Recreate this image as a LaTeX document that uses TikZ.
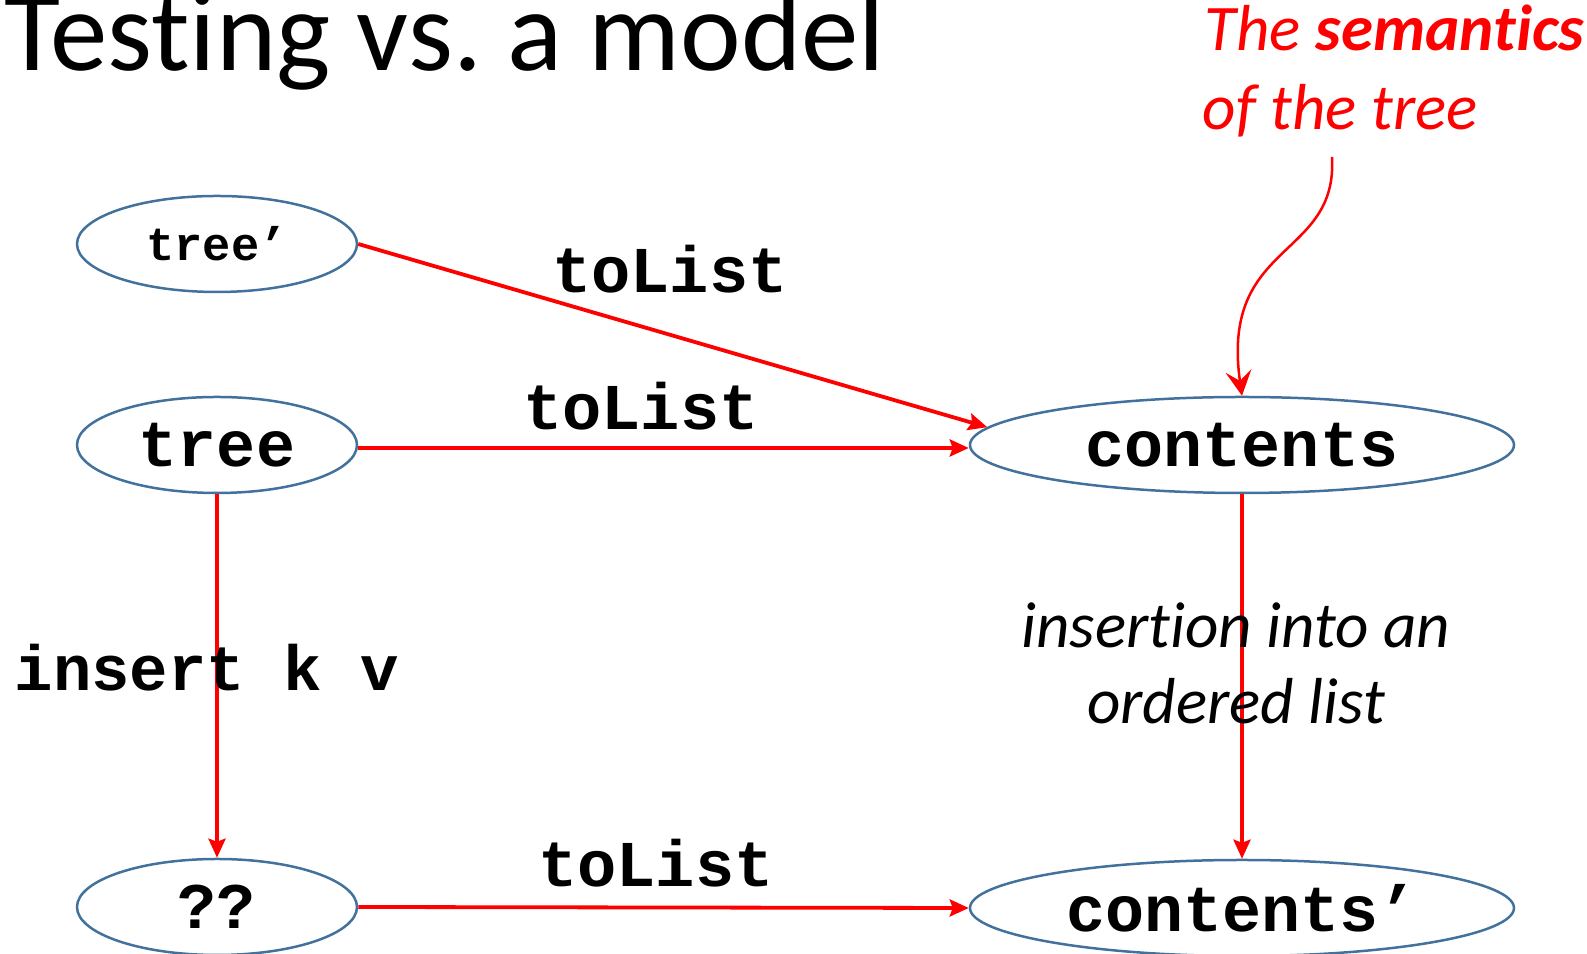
\documentclass[tikz,border=0pt]{standalone}
\usepackage{fontspec}
\setmainfont{Carlito}[Ligatures=NoCommon]
\newfontfamily\codefont{Liberation Mono}
\usetikzlibrary{arrows.meta,calc,positioning,shapes.geometric}
\definecolor{nodeblue}{HTML}{41719C}
\definecolor{pptred}{HTML}{FF0000}

\begin{document}
\begin{tikzpicture}[>={Stealth[length=0.19cm,width=0.17cm,inset=0.03cm]},
    val/.style={ellipse,draw=nodeblue,line width=0.025cm,inner sep=0pt,
      minimum width=2.8cm,minimum height=0.96cm,
      font=\codefont\bfseries\fontsize{18.5}{22}\selectfont},
    bigval/.style={val,minimum width=5.44cm},
    fn/.style={draw=pptred,line width=0.038cm,->},
    fnlabel/.style={anchor=base,inner sep=0pt,
      font=\codefont\bfseries\fontsize{18.6}{22}\selectfont},
    note/.style={anchor=base,inner sep=0pt,font=\itshape\fontsize{18.5}{22.5}\selectfont}]
    \useasboundingbox (0,0) rectangle (15.87,-9.54);
    % --- title ---
    \node[anchor=base west,inner sep=0pt,font=\fontsize{32.7}{38}\selectfont] (title)
      at (0.04,-0.71) {Testing vs.\ a model};
    % --- values ---
    \node[val,font=\codefont\bfseries\fontsize{13.4}{16}\selectfont] (treep) at (2.17,-2.44) {tree’};
    \node[val] (tree) at (2.17,-4.45) {tree};
    \node[val] (qq) at (2.17,-9.07) {??};
    \node[bigval] (contents) at (12.42,-4.45) {contents};
    \node[bigval] (contentsp) at (12.42,-9.08) {contents’};
    % --- functions ---
    \draw[fn] (treep.east) -- (contents.176);
    \draw[fn] ([yshift=-0.03cm]tree.east) -- ([yshift=-0.03cm]contents.west);
    \draw[fn] (tree.south) -- (qq.north);
    \draw[fn] (qq.east) -- (contentsp.west);
    \draw[fn] (contents.south) -- (contentsp.north);
    \node[fnlabel] (l1) at (6.70,-2.93) {toList};
    \node[fnlabel] (l2) at (6.41,-4.30) {toList};
    \node[fnlabel] (l3) at (6.56,-8.87) {toList};
    \node[fnlabel,anchor=base west,font=\codefont\bfseries\fontsize{18.2}{22}\selectfont] (ins)
      at (0.14,-6.91) {insert k v};
    \node[note] (ord1) at (12.36,-6.48) {insertion into an};
    \node[note] (ord2) at (12.36,-7.24) {ordered list};
    % --- semantics note ---
    \node[note,anchor=base west,text=pptred] (sem1) at (12.04,-0.51) {The \textbf{semantics}};
    \node[note,anchor=base west,text=pptred] (sem2) at (12.02,-1.30) {of the tree};
    \coordinate (semfoot) at (13.32,-1.57);
    \draw[pptred,line width=0.025cm,-{Stealth[length=0.25cm,width=0.26cm,inset=0.1cm]}]
      (semfoot) .. controls (13.38,-2.6) and (12.2,-2.4) .. (contents.north);
\end{tikzpicture}
\end{document}
